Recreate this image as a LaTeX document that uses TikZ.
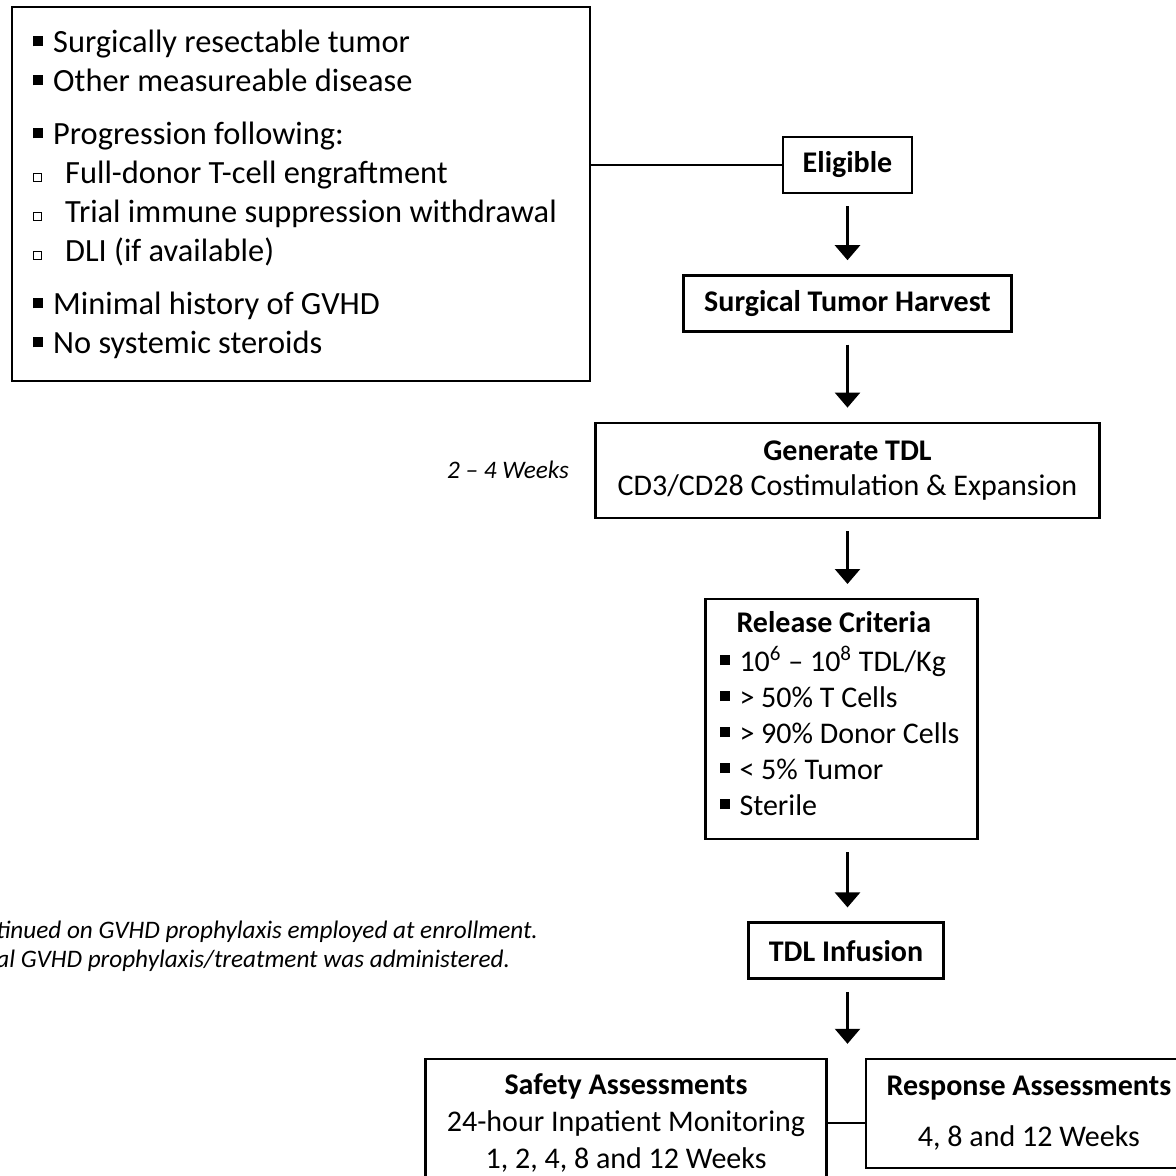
\documentclass[tikz,border=0pt]{standalone}
\usepackage{fontspec}
\setmainfont{Carlito}
\usetikzlibrary{positioning,arrows.meta}

\newcommand{\fsq}{\makebox[10pt][l]{\rule[3pt]{5pt}{5pt}}}
\newcommand{\hsq}{\makebox[16pt][l]{\raisebox{1pt}{\fboxsep=0pt\fboxrule=0.5pt\fbox{\rule{0pt}{3.5pt}\hspace{3.5pt}}}}}
\newcommand{\natspace}{\spaceskip=0pt\xspaceskip=0pt\relax}

\begin{document}
\begin{tikzpicture}[x=0.5pt, y=-0.5pt, node distance=40pt,
  box/.style={draw, line width=1.2pt, inner sep=0pt, align=center, font=\fontsize{15}{18.5}\selectfont},
  flow/.style={-{Triangle[width=12.5pt,length=7.5pt]}, line width=1.3pt, shorten <=6pt, shorten >=7pt},
  note/.style={inner sep=0pt, font=\fontsize{12.6}{14.5}\selectfont\itshape}]
\useasboundingbox (0,0) rectangle (1176,1176);
\node (crit) [draw, line width=1.2pt, anchor=north west, align=left, text width=268pt, inner xsep=10.5pt, inner ysep=0pt,
  minimum height=187pt, font=\fontsize{16.2}{19.5}\selectfont] at (11,6) {\natspace
  \fsq Surgically resectable tumor\\
  \fsq Other measureable disease\\[7pt]
  \fsq Progression following:\\
  \hsq Full-donor T-cell engraftment\\
  \hsq Trial immune suppression withdrawal\\
  \hsq DLI (if available)\\[7pt]
  \fsq Minimal history of GVHD\\
  \fsq No systemic steroids};
\node (elig) [box, minimum width=64.5pt, minimum height=28pt] at (847.5,165) {\textbf{Eligible}};
\node (harvest) [box, below=of elig, minimum width=164pt, minimum height=28pt] {\textbf{Surgical Tumor Harvest}};
\node (gen) [box, below=44.5pt of harvest, minimum width=252pt, minimum height=47.5pt,
  font=\fontsize{15}{17.5}\selectfont] {\textbf{Generate TDL}\\CD3/CD28 Costimulation \& Expansion};
\node (weeks) [note, left=12.5pt of gen] {2 – 4 Weeks};
\node (release) [box, below=39.5pt of gen, xshift=-3pt, align=left, text width=122pt, inner xsep=7pt,
  minimum height=120pt, font=\fontsize{15}{18}\selectfont] {\natspace
  \hspace*{8.5pt}\textbf{Release Criteria}\\[1.5pt]
  \fsq 10\textsuperscript{6} – 10\textsuperscript{8} TDL/Kg\\
  \fsq > 50\% T Cells\\
  \fsq > 90\% Donor Cells\\
  \fsq < 5\% Tumor\\
  \fsq Sterile\rule[-6pt]{0pt}{1pt}};
\node (infusion) [box, below=40.5pt of release, xshift=2.25pt, minimum width=97.5pt, minimum height=28pt] {\textbf{TDL Infusion}};
\node (prophy) [note, anchor=west, align=left] at (-4,946) {\natspace tinued on GVHD prophylaxis employed at enrollment.\\al GVHD prophylaxis/treatment was administered.};
\node (safety) [box, below=39pt of infusion, xshift=-110pt, minimum width=200.5pt, minimum height=64pt]
  {\textbf{Safety Assessments}\\24-hour Inpatient Monitoring\\1, 2, 4, 8 and 12 Weeks};
\node (resp) [box, right=18.5pt of safety.north east, anchor=north west, minimum width=163pt, minimum height=54.5pt]
  {\textbf{Response Assessments}\\[7pt]4, 8 and 12 Weeks};
\draw[line width=1.2pt] (elig.west) -- (elig.west -| crit.east);
\draw[flow] (elig) -- (harvest);
\draw[flow] (harvest) -- (gen);
\draw[flow] (gen.south -| elig) -- (release.north -| elig);
\draw[flow] (release.south -| elig) -- (infusion.north -| elig);
\draw[flow] (infusion.south -| elig) -- (safety.north -| elig);
\draw[line width=1.2pt] (safety.east) -- (safety.east -| resp.west);
\end{tikzpicture}
\end{document}
